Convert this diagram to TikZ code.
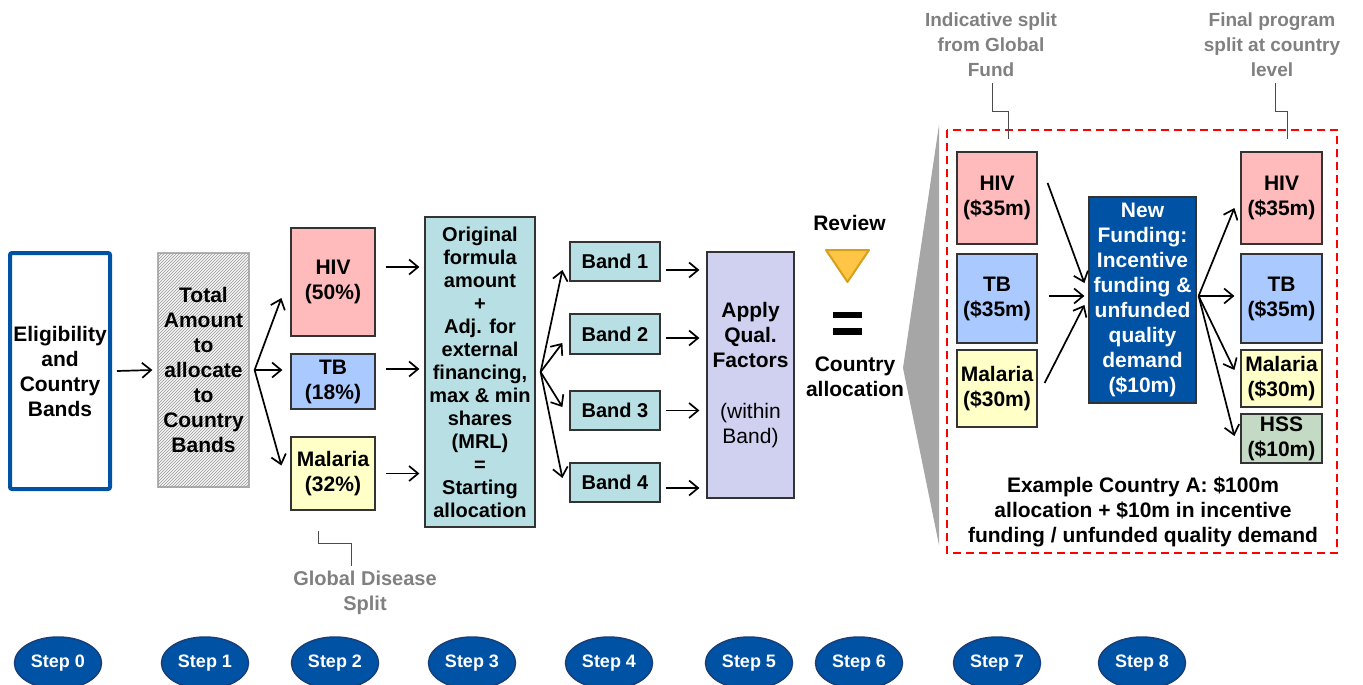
\documentclass[tikz,border=0pt]{standalone}
\usepackage{fontspec}
\setmainfont{Liberation Sans}
\usetikzlibrary{arrows.meta, patterns, shapes.geometric, positioning}
\definecolor{hivpink}{RGB}{255,187,187}
\definecolor{tbblue}{RGB}{170,202,255}
\definecolor{malyellow}{RGB}{255,255,200}
\definecolor{bandteal}{RGB}{184,224,228}
\definecolor{qualpurple}{RGB}{208,208,240}
\definecolor{hssgreen}{RGB}{196,218,196}
\definecolor{gfblue}{RGB}{0,82,165}
\definecolor{stepedge}{RGB}{25,62,120}
\definecolor{reviewgold}{RGB}{255,198,70}
\definecolor{reviewedge}{RGB}{214,160,30}
\definecolor{notegray}{RGB}{128,128,128}
\tikzset{
  txt/.style={inner sep=0pt, align=center, font=\bfseries\fontsize{21}{25}\selectfont},
  bx/.style={txt, draw=black!80, line width=1.2pt},
  arr/.style={line width=1.7pt, -{Straight Barb[length=9pt,width=15pt]}},
  callout/.style={draw=black!70, line width=1pt},
  note/.style={txt, text=notegray, font=\bfseries\fontsize{19}{25}\selectfont},
  stepnode/.style={ellipse, draw=stepedge, line width=1.5pt, fill=gfblue, text=white,
    minimum width=87pt, minimum height=52pt, inner sep=0pt, font=\bfseries\fontsize{18}{20}\selectfont}
}
\begin{document}
\begin{tikzpicture}[x=1pt, y=-1pt]
\useasboundingbox (0,0) rectangle (1363,685);
% steps 0-3
\node[txt, draw=gfblue, line width=4pt, rounded corners=2pt, minimum width=100pt, minimum height=236pt] (elig) at (60,371) {Eligibility\\and\\Country\\Bands};
\node[txt, draw=black!30, line width=1.2pt, fill=black!4, postaction={pattern=north east lines, pattern color=black!40}, minimum width=91pt, minimum height=234pt] (total) at (203.5,370) {Total\\Amount\\to\\allocate\\to\\Country\\Bands};
\node[bx, fill=hivpink, minimum width=84pt, minimum height=108pt] (hiv) at (333,282) {HIV\\(50\%)};
\node[bx, fill=tbblue, minimum width=84pt, minimum height=55pt] (tb) at (333,381.5) {TB\\(18\%)};
\node[bx, fill=malyellow, minimum width=84pt, minimum height=73pt] (mal) at (333,473.5) {Malaria\\(32\%)};
\node[bx, fill=bandteal, minimum width=110pt, minimum height=310pt, font=\bfseries\fontsize{20}{23}\selectfont] (form) at (480,372) {Original\\formula\\amount\\+\\Adj. for\\external\\financing,\\max \& min\\shares\\(MRL)\\=\\Starting\\allocation};
% bands and qual. factors
\node[bx, fill=bandteal, minimum width=90pt, minimum height=39pt, font=\bfseries\fontsize{20}{23}\selectfont] (b1) at (615,261.5) {Band 1};
\node[bx, fill=bandteal, minimum width=90pt, minimum height=40pt, font=\bfseries\fontsize{20}{23}\selectfont] (b2) at (615,334) {Band 2};
\node[bx, fill=bandteal, minimum width=90pt, minimum height=39pt, font=\bfseries\fontsize{20}{23}\selectfont] (b3) at (615,410.5) {Band 3};
\node[bx, fill=bandteal, minimum width=90pt, minimum height=39pt, font=\bfseries\fontsize{20}{23}\selectfont] (b4) at (615,482.5) {Band 4};
\node[bx, fill=qualpurple, minimum width=87pt, minimum height=246pt] (apply) at (750.5,375) {Apply\\Qual.\\Factors\\[26pt]{\mdseries (within}\\{\mdseries Band)}};
\node[txt] (review) at (849.5,223) {Review};
\draw[fill=reviewgold, draw=reviewedge, line width=2pt, line join=round] (826,250) -- (869,250) -- (847.5,282) -- cycle;
\fill (833,312) rectangle (862,318);
\fill (833,328) rectangle (862,335);
\node[txt] (ctry) at (855,377) {Country\\allocation};
% example country
\fill[black!35] (939,125) -- (903,368) -- (939,545) -- cycle;
\draw[red, line width=2pt, dash pattern=on 8pt off 5pt] (947,130) rectangle (1337,553);
\node[bx, fill=hivpink, minimum width=80pt, minimum height=92pt] (lhiv) at (997,198) {HIV\\(\$35m)};
\node[bx, fill=tbblue, minimum width=80pt, minimum height=89pt] (ltb) at (997,298.5) {TB\\(\$35m)};
\node[bx, fill=malyellow, minimum width=80pt, minimum height=77pt] (lmal) at (997,388.5) {Malaria\\(\$30m)};
\node[bx, fill=gfblue, text=white, minimum width=107pt, minimum height=206pt] (newf) at (1142.5,300) {New\\Funding:\\Incentive\\funding \&\\unfunded\\quality\\demand\\(\$10m)};
\node[bx, fill=hivpink, minimum width=81pt, minimum height=92pt] (rhiv) at (1281.5,198) {HIV\\(\$35m)};
\node[bx, fill=tbblue, minimum width=81pt, minimum height=89pt] (rtb) at (1281.5,298.5) {TB\\(\$35m)};
\node[bx, fill=malyellow, minimum width=81pt, minimum height=57pt] (rmal) at (1281.5,378.5) {Malaria\\(\$30m)};
\node[bx, fill=hssgreen, minimum width=81pt, minimum height=49pt] (hss) at (1281.5,438.5) {HSS\\(\$10m)};
\node[txt] (ex) at (1143,512) {Example Country A: \$100m\\allocation + \$10m in incentive\\funding / unfunded quality demand};
% notes
\node[note] (isplit) at (991,45) {Indicative split\\from Global\\Fund};
\node[note] (fsplit) at (1272,45) {Final program\\split at country\\level};
\node[note, font=\bfseries\fontsize{20}{25}\selectfont] (gds) at (365,593) {Global Disease\\Split};
\draw[callout] ([xshift=1pt,yshift=-6pt]isplit.south) -- ++(0,28) -| ([xshift=11pt,yshift=12pt]lhiv.north);
\draw[callout] ([xshift=3pt,yshift=-6pt]fsplit.south) -- ++(0,28) -| ([xshift=5.5pt,yshift=12pt]rhiv.north);
\draw[callout] ([xshift=-15pt,yshift=-20pt]mal.south) -- ++(0,13) -| ([xshift=-14pt,yshift=5pt]gds.north);
% arrows
\draw[arr] ([xshift=5pt]elig.east) -- ([xshift=-5pt]total.west);
\coordinate (fanA) at ([xshift=5pt]total.east);
\draw[arr] (fanA) -- ([xshift=-9pt,yshift=-16pt]hiv.west);
\draw[arr, shorten >=8pt] (fanA) -- (fanA -| tb.west);
\draw[arr] (fanA) -- ([xshift=-9pt,yshift=8pt]mal.west);
\draw[arr, shorten <=10pt, shorten >=5pt] ([yshift=15pt]hiv.east) -- ([yshift=15pt]hiv.east -| form.west);
\draw[arr, shorten <=10pt, shorten >=5pt] ([yshift=12.5pt]tb.east) -- ([yshift=12.5pt]tb.east -| form.west);
\draw[arr, shorten <=10pt, shorten >=5pt] (mal.east) -- (mal.east -| form.west);
\coordinate (fanB) at ([xshift=5pt]form.east);
\draw[arr] (fanB) -- ([xshift=-7pt,yshift=-8.5pt]b1.west);
\draw[arr] (fanB) -- ([xshift=-7pt,yshift=-9pt]b2.west);
\draw[arr] (fanB) -- ([xshift=-7pt,yshift=3.5pt]b3.west);
\draw[arr] (fanB) -- ([xshift=-7pt,yshift=4.5pt]b4.west);
\draw[arr, shorten <=5pt, shorten >=7pt] ([yshift=-8.5pt]b1.east) -- ([yshift=-8.5pt]b1.east -| apply.west);
\draw[arr, shorten <=5pt, shorten >=7pt] ([yshift=-4pt]b2.east) -- ([yshift=-4pt]b2.east -| apply.west);
\draw[arr, shorten <=5pt, shorten >=7pt] (b3.east) -- (b3.east -| apply.west);
\draw[arr, shorten <=5pt, shorten >=7pt] ([yshift=-5.5pt]b4.east) -- ([yshift=-5.5pt]b4.east -| apply.west);
\draw[arr] ([xshift=10pt,yshift=15pt]lhiv.east) -- ([xshift=-4pt,yshift=17pt]newf.west);
\draw[arr] ([xshift=11pt,yshift=2.5pt]ltb.east) -- ([xshift=-4pt,yshift=4pt]newf.west);
\draw[arr] ([xshift=7pt,yshift=5.5pt]lmal.east) -- ([xshift=-4pt,yshift=-5pt]newf.west);
\coordinate (fanC) at ([xshift=2pt,yshift=4pt]newf.east);
\draw[arr] (fanC) -- ([xshift=-6pt,yshift=-10pt]rhiv.west);
\draw[arr] (fanC) -- ([xshift=-6pt,yshift=2.5pt]rtb.west);
\draw[arr] (fanC) -- ([xshift=-6pt,yshift=8.5pt]rmal.west);
\draw[arr] (fanC) -- ([xshift=-6pt,yshift=2.5pt]hss.west);
% steps
\foreach \n/\sx in {0/58,1/205,2/335,3/472,4/609,5/749,6/859,7/997,8/1142}
  \node[stepnode] (step\n) at (\sx,663) {Step \n};
\end{tikzpicture}
\end{document}
